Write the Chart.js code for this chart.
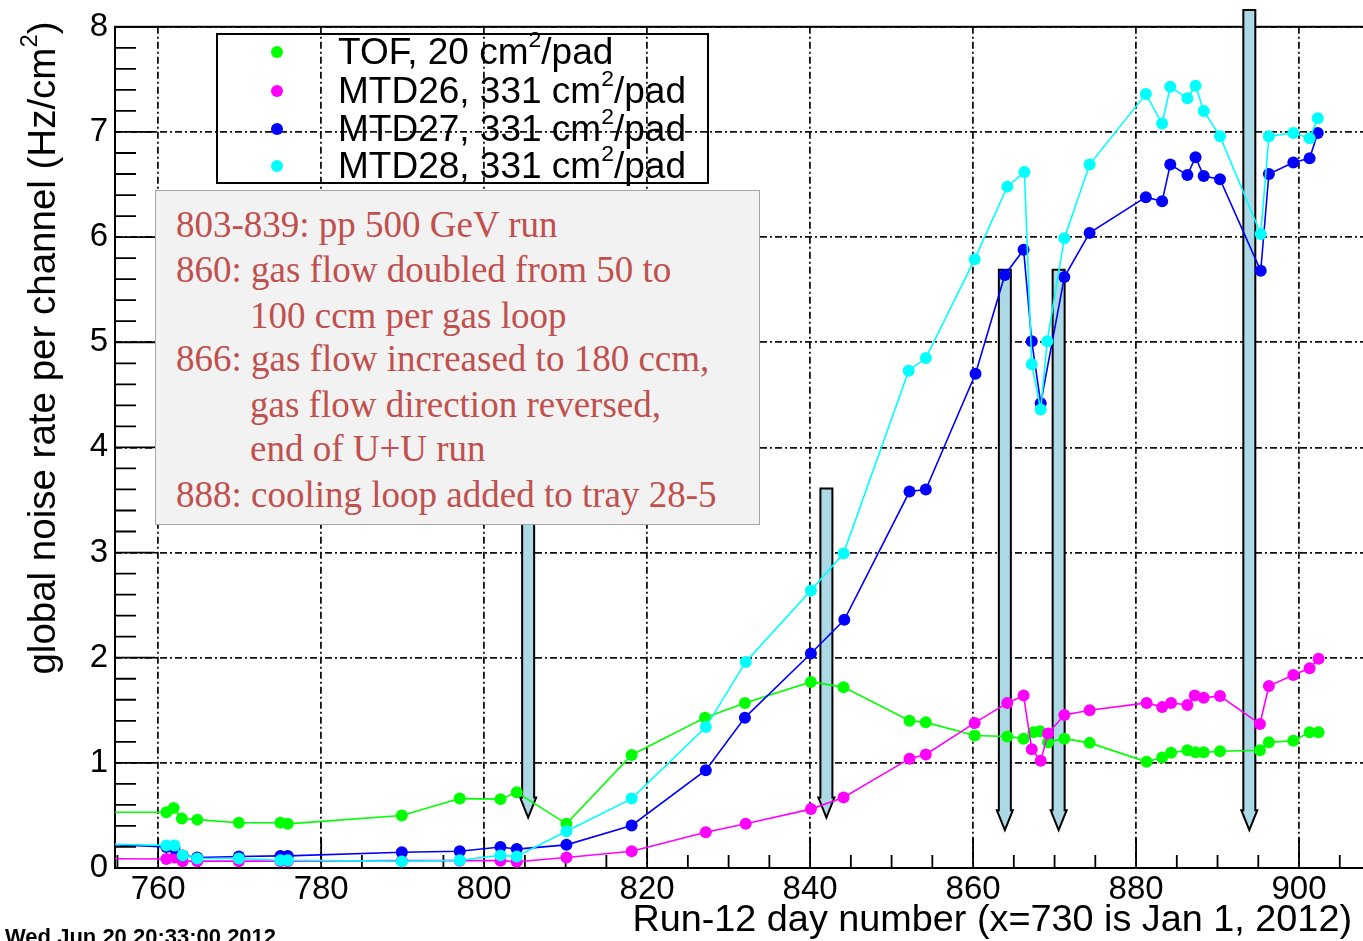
<!DOCTYPE html>
<html>
<head>
<meta charset="utf-8">
<script src="https://cdn.jsdelivr.net/npm/chart.js@4.4.1/dist/chart.umd.min.js"></script>
<style>
  html, body { margin: 0; padding: 0; background: #fff; overflow: hidden; }
  #wrap { position: relative; width: 1363px; height: 941px; overflow: hidden; }
  #noise { position: absolute; left: 0; top: 0; }
  .legend { position: absolute; left: 216px; top: 33px; width: 489px; height: 147px;
            border: 2px solid #000; font: 37px "Liberation Sans", Arial, sans-serif; color: #000; }
  .legend .row { position: absolute; left: 0; height: 38px; line-height: 38px; white-space: nowrap; }
  .legend .dot { position: absolute; left: 53px; top: 13px; width: 12px; height: 12px; border-radius: 50%; }
  .legend .txt { position: absolute; left: 120px; top: 0; }
  sup { font-size: 0.62em; line-height: 0; vertical-align: 0.75em; }
  .note { position: absolute; left: 155px; top: 190px; width: 603px; height: 333px;
          background: #f2f2f2; border: 1px solid #a6a6a6;
          font: 37px "Liberation Serif", "Times New Roman", serif; color: #c0504d; }
  .note div { position: absolute; white-space: nowrap; height: 45px; line-height: 45px; }
  .ytitle { position: absolute; left: -308px; top: 326px; width: 700px; height: 44px; line-height: 44px;
            text-align: center; transform: rotate(-90deg); font: 38.5px "Liberation Sans", Arial, sans-serif; white-space: nowrap; }
  .xtitle { position: absolute; left: 0; top: 896px; width: 1352px; text-align: right;
            font: 37.8px "Liberation Sans", Arial, sans-serif; line-height: 44px; white-space: nowrap; }
  .stamp { position: absolute; left: 5px; top: 926px; font: bold 22px "Liberation Sans", Arial, sans-serif;
           line-height: 22px; white-space: nowrap; }
</style>
</head>
<body>
<div id="wrap">
  <canvas id="noise" width="1380" height="941"></canvas>

  <div class="legend" id="legend"></div>

  <div class="note">
    <div style="left:20px;top:11px">803-839: pp 500 GeV run</div>
    <div style="left:20px;top:56px">860: gas flow doubled from 50 to</div>
    <div style="left:94px;top:102px">100 ccm per gas loop</div>
    <div style="left:20px;top:145px">866: gas flow increased to 180 ccm,</div>
    <div style="left:94px;top:191px">gas flow direction reversed,</div>
    <div style="left:94px;top:235px">end of U+U run</div>
    <div style="left:20px;top:281px">888: cooling loop added to tray 28-5</div>
  </div>

  <div class="ytitle">global noise rate per channel (Hz/cm<sup>2</sup>)</div>
  <div class="xtitle">Run-12 day number (x=730 is Jan 1, 2012)</div>
  <div class="stamp">Wed Jun 20 20:33:00 2012</div>
</div>

<script>
// ----- data (day number, rate in Hz/cm^2) -----
const tofDay  = [752, 761.0, 761.9, 762.9, 764.8, 769.9, 775.0, 775.9, 789.9, 797.0, 802.0, 804.0, 810.1,
                 818.1, 827.1, 832.0, 840.1, 844.1, 852.2, 854.2, 860.2, 864.2, 866.2, 867.4, 868.2, 869.2,
                 871.2, 874.3, 881.3, 883.2, 884.3, 886.3, 887.3, 888.3, 890.3, 895.2, 896.3, 899.3, 901.3, 902.4];
const tofRate = [0.53, 0.53, 0.57, 0.47, 0.46, 0.43, 0.43, 0.42, 0.50, 0.66, 0.655, 0.72, 0.42,
                 1.075, 1.43, 1.57, 1.77, 1.72, 1.40, 1.385, 1.26, 1.25, 1.23, 1.29, 1.30, 1.195,
                 1.23, 1.19, 1.01, 1.05, 1.095, 1.12, 1.10, 1.10, 1.11, 1.12, 1.195, 1.21, 1.29, 1.29];

const mtd26Day  = [752, 761.0, 762.0, 763.0, 764.8, 769.9, 775.0, 775.9, 789.9, 797.0, 802.0, 804.0, 810.1,
                   818.1, 827.2, 832.1, 840.1, 844.1, 852.2, 854.2, 860.2, 864.2, 866.2, 867.2, 868.3, 869.2,
                   871.2, 874.3, 881.3, 883.2, 884.3, 886.3, 887.2, 888.3, 890.3, 895.2, 896.3, 899.3, 901.3, 902.4];
const mtd26Rate = [0.09, 0.085, 0.10, 0.065, 0.065, 0.065, 0.065, 0.065, 0.07, 0.07, 0.07, 0.06, 0.10,
                   0.16, 0.34, 0.42, 0.56, 0.67, 1.04, 1.08, 1.38, 1.57, 1.64, 1.13, 1.02, 1.28,
                   1.455, 1.50, 1.57, 1.53, 1.57, 1.55, 1.64, 1.62, 1.635, 1.37, 1.73, 1.835, 1.90, 1.99];

const mtd27Day  = [752, 761.0, 762.0, 763.0, 764.8, 769.9, 775.0, 775.9, 789.9, 797.0, 802.0, 804.0, 810.1,
                   818.1, 827.2, 832.0, 840.1, 844.2, 852.2, 854.2, 860.3, 863.9, 866.2, 867.2, 868.3,
                   871.2, 874.3, 881.2, 883.2, 884.2, 886.3, 887.3, 888.3, 890.3, 895.3, 896.3, 899.3, 901.3, 902.3];
const mtd27Rate = [0.23, 0.20, 0.19, 0.12, 0.10, 0.11, 0.115, 0.115, 0.15, 0.16, 0.20, 0.18, 0.22,
                   0.405, 0.93, 1.43, 2.04, 2.36, 3.58, 3.60, 4.70, 5.64, 5.88, 5.01, 4.42,
                   5.62, 6.04, 6.38, 6.34, 6.69, 6.59, 6.76, 6.58, 6.55, 5.68, 6.60, 6.71, 6.75, 6.99];

const mtd28Day  = [752, 761.0, 762.0, 763.0, 764.8, 769.9, 775.0, 775.9, 789.9, 797.0, 802.0, 804.0, 810.1,
                   818.1, 827.2, 832.1, 840.1, 844.1, 852.1, 854.2, 860.2, 864.2, 866.3, 867.2, 868.3, 869.1,
                   871.2, 874.3, 881.2, 883.2, 884.2, 886.3, 887.3, 888.3, 890.3, 895.3, 896.3, 899.3, 901.3, 902.3];
const mtd28Rate = [0.23, 0.215, 0.215, 0.12, 0.09, 0.09, 0.073, 0.073, 0.063, 0.073, 0.12, 0.11, 0.35,
                   0.66, 1.34, 1.96, 2.64, 2.99, 4.73, 4.85, 5.79, 6.48, 6.62, 4.79, 4.36, 5.01,
                   5.99, 6.69, 7.36, 7.08, 7.43, 7.32, 7.44, 7.20, 6.96, 6.03, 6.96, 6.99, 6.94, 7.13];

const seriesNames  = ['TOF, 20 cm<sup>2</sup>/pad', 'MTD26, 331 cm<sup>2</sup>/pad',
                      'MTD27, 331 cm<sup>2</sup>/pad', 'MTD28, 331 cm<sup>2</sup>/pad'];
const seriesColors = ['#00ff00', '#ff00ff', '#0000ff', '#00ffff'];

// event arrows: day, top of shaft, tip (in y units)
const arrowDay = [805.4, 842.0, 863.9, 870.5, 893.9];
const arrowTop = [4.2, 3.61, 5.69, 5.69, 8.16];
const arrowTip = [0.48, 0.48, 0.36, 0.36, 0.36];

const xTickValues = [760, 780, 800, 820, 840, 860, 880, 900];
const yTickValues = [0, 1, 2, 3, 4, 5, 6, 7, 8];

const X_MIN = 754.7, X_MAX = 909.2, Y_MIN = 0, Y_MAX = 8;

// ----- legend (html) -----
const legendRowTop = [-2, 37, 75, 112];
document.getElementById('legend').innerHTML = seriesNames.map((n, i) =>
  `<div class="row" style="top:${legendRowTop[i]}px"><span class="dot" style="background:${seriesColors[i]}"></span><span class="txt">${n}</span></div>`
).join('');

function pts(xs, ys) { return xs.map((x, i) => ({ x: x, y: ys[i] })); }

function lineSet(label, data, color, order) {
  return {
    label, data, order,
    borderColor: color,
    borderWidth: 1.6,
    backgroundColor: color,
    pointBackgroundColor: color,
    pointBorderWidth: 0,
    pointRadius: 6,
    pointHoverRadius: 6,
    tension: 0,
    fill: false,
  };
}

// ROOT-like frame, inside ticks and arrows
const framePlugin = {
  id: 'frame',
  beforeDatasetsDraw(chart) {
    const { ctx, chartArea: a, scales: { x, y } } = chart;
    ctx.save();
    ctx.strokeStyle = '#000';
    ctx.lineWidth = 1.8;
    ctx.beginPath();
    // y ticks every 0.2
    for (let k = 0; k <= 40; k++) {
      const py = y.getPixelForValue(k * 0.2);
      const len = k % 5 === 0 ? 40 : 21;
      ctx.moveTo(a.left, py); ctx.lineTo(a.left + len, py);
    }
    // x ticks every 5 days
    for (let d = 755; d <= 905; d += 5) {
      const px = x.getPixelForValue(d);
      const len = d % 20 === 0 ? 30 : 13;
      ctx.moveTo(px, a.bottom); ctx.lineTo(px, a.bottom - len);
    }
    ctx.stroke();
    ctx.lineWidth = 2;
    ctx.strokeRect(a.left, a.top, a.right - a.left + 10, a.bottom - a.top);

    // arrows
    arrowDay.forEach((d, i) => {
      const px = x.getPixelForValue(d);
      const pt = y.getPixelForValue(arrowTop[i]);
      const pb = y.getPixelForValue(arrowTip[i]);
      const hw = 6, hh = 8, head = 20;
      ctx.beginPath();
      ctx.moveTo(px - hw, pt);
      ctx.lineTo(px + hw, pt);
      ctx.lineTo(px + hw, pb - head);
      ctx.lineTo(px + hh, pb - head);
      ctx.lineTo(px, pb);
      ctx.lineTo(px - hh, pb - head);
      ctx.lineTo(px - hw, pb - head);
      ctx.closePath();
      ctx.fillStyle = '#add8e6';
      ctx.fill();
      ctx.lineWidth = 2;
      ctx.strokeStyle = '#000';
      ctx.stroke();
    });
    ctx.restore();
  }
};

const tickFont = { family: '"Liberation Sans", Arial, sans-serif', size: 33 };
const gridDash = [7, 3, 2, 3];

new Chart(document.getElementById('noise'), {
  type: 'line',
  data: {
    datasets: [
      lineSet('TOF', pts(tofDay, tofRate), seriesColors[0], 3),
      lineSet('MTD26', pts(mtd26Day, mtd26Rate), seriesColors[1], 2),
      lineSet('MTD27', pts(mtd27Day, mtd27Rate), seriesColors[2], 1),
      lineSet('MTD28', pts(mtd28Day, mtd28Rate), seriesColors[3], 0),
    ]
  },
  options: {
    responsive: false,
    animation: false,
    events: [],
    layout: { padding: { top: 24, left: 0, right: 0, bottom: 0 } },
    plugins: { legend: { display: false }, tooltip: { enabled: false } },
    scales: {
      x: {
        type: 'linear',
        min: X_MIN, max: X_MAX,
        afterBuildTicks: s => { s.ticks = xTickValues.map(v => ({ value: v })); },
        afterFit: s => { s.height = 73; },
        ticks: { color: '#000', font: tickFont, padding: 2, maxRotation: 0, autoSkip: false },
        grid: { color: '#111', lineWidth: 1.8, drawTicks: false },
        border: { display: false, dash: gridDash }
      },
      y: {
        min: Y_MIN, max: Y_MAX,
        afterBuildTicks: s => { s.ticks = yTickValues.map(v => ({ value: v })); },
        afterFit: s => { s.width = 115; },
        ticks: { color: '#000', font: tickFont, padding: 7, autoSkip: false },
        grid: { color: '#111', lineWidth: 1.8, drawTicks: false },
        border: { display: false, dash: gridDash }
      }
    }
  },
  plugins: [framePlugin]
});
</script>
</body>
</html>
